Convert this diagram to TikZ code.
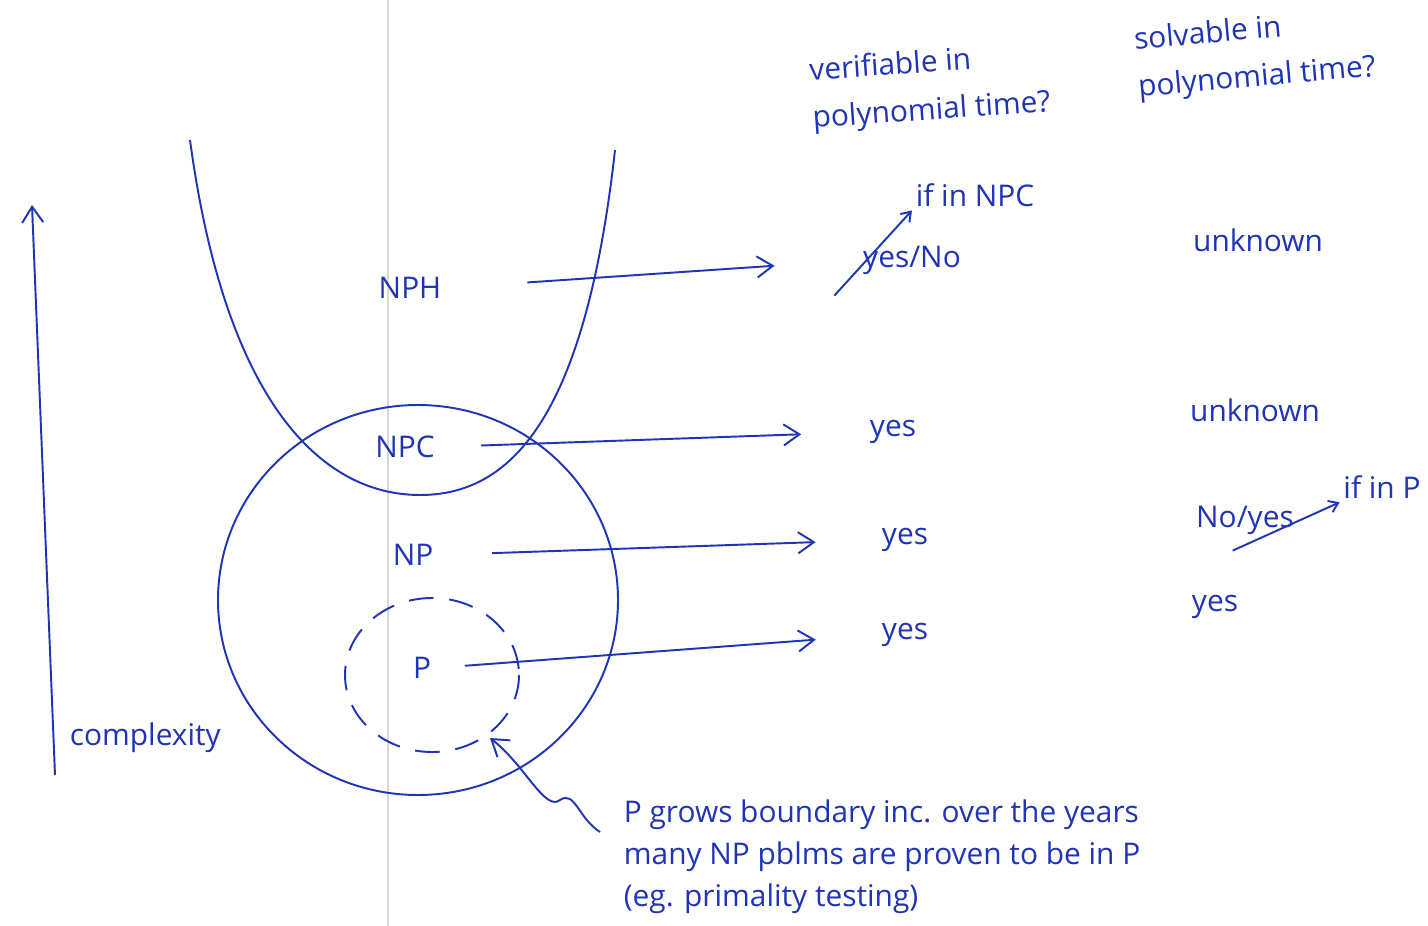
\documentclass[tikz,border=0pt]{standalone}
\usepackage{fontspec}
\setmainfont{Open Sans}
\usetikzlibrary{arrows.meta}
\definecolor{ink}{RGB}{32,52,182}
\tikzset{
  hand/.style={text=ink, font=\fontsize{17}{21}\selectfont, inner sep=2pt},
  pen/.style={draw=ink, line width=1.1pt},
  flow/.style={pen, -{Straight Barb[length=9pt,width=12pt]}},
  strike/.style={pen, -{Straight Barb[length=5pt,width=7pt]}}
}
\begin{document}
\begin{tikzpicture}[x=0.02cm, y=-0.02cm]
  \useasboundingbox (0,0) rectangle (1428,926);
  \fill[white] (0,0) rectangle (1428,926);
  % page fold
  \draw[black!15, line width=0.8pt] (388,0) -- (388,926);
  % complexity axis
  \coordinate (axlo) at (55,775);
  \coordinate (axhi) at (32,205);
  \draw[flow] (axlo) -- (axhi);
  \node[hand, anchor=west] (cplx) at (66,738) {complexity};
  % classes
  \draw[pen] (190,140) .. controls (225,400) and (320,495) .. (420,495)
    .. controls (510,495) and (585,420) .. (615,150);
  \draw[pen] (418,600) ellipse [x radius=200, y radius=195];
  \draw[pen, dash pattern=on 14pt off 9pt] (432,675) ellipse [x radius=87, y radius=77];
  \node[hand] (nph) at (410,288) {NPH};
  \node[hand] (npc) at (405,447) {NPC};
  \node[hand] (np) at (413,555) {NP};
  \node[hand] (p) at (422,668) {P};
  % column heads
  \node[hand, align=left, rotate=4] (verif) at (930,88) {verifiable in\\[6pt]polynomial time?};
  \node[hand, align=left, rotate=5] (solv) at (1255,55) {solvable in\\[6pt]polynomial time?};
  % verifiable column
  \node[hand] (nphv) at (912,260) {yes/No};
  \node[hand] (ifnpc) at (975,195) {if in NPC};
  \node[hand] (npcv) at (893,432) {yes};
  \node[hand] (npv) at (905,540) {yes};
  \node[hand] (pv) at (905,635) {yes};
  % solvable column
  \node[hand] (nphs) at (1258,240) {unknown};
  \node[hand] (npcs) at (1255,410) {unknown};
  \node[hand] (nps) at (1245,520) {No/yes};
  \node[hand] (ifp) at (1382,487) {if in P};
  \node[hand] (ps) at (1215,607) {yes};
  % struck answers
  \draw[strike] ([shift={(-0.5cm,-0.35cm)}]nphv.south west) -- (ifnpc.south west);
  \draw[strike] ([shift={(-1.3cm,-0.25cm)}]nps.south east) -- (ifp.south west);
  % arrows
  \draw[flow, shorten <=1.65cm, shorten >=1.7cm] (nph.east) -- (nphv.west);
  \draw[flow, shorten <=0.85cm, shorten >=1.3cm] (npc.east) -- (npcv.west);
  \draw[flow, shorten <=1.1cm, shorten >=1.25cm] (np.east) -- (npv.west);
  \draw[flow, shorten <=0.6cm, shorten >=1.25cm] (p.east) -- (pv.west);
  % note on P
  \node[hand, align=left, anchor=north west] (note) at (620,796)
    {P grows boundary inc. over the years\\[3pt]many NP pblms are proven to be in P\\[3pt](eg. primality testing)};
  \coordinate (pedge) at (490,738);
  \draw[flow] (600,832) .. controls (578,818) and (575,790) .. (560,800)
    .. controls (545,812) and (525,765) .. (pedge);
\end{tikzpicture}
\end{document}
